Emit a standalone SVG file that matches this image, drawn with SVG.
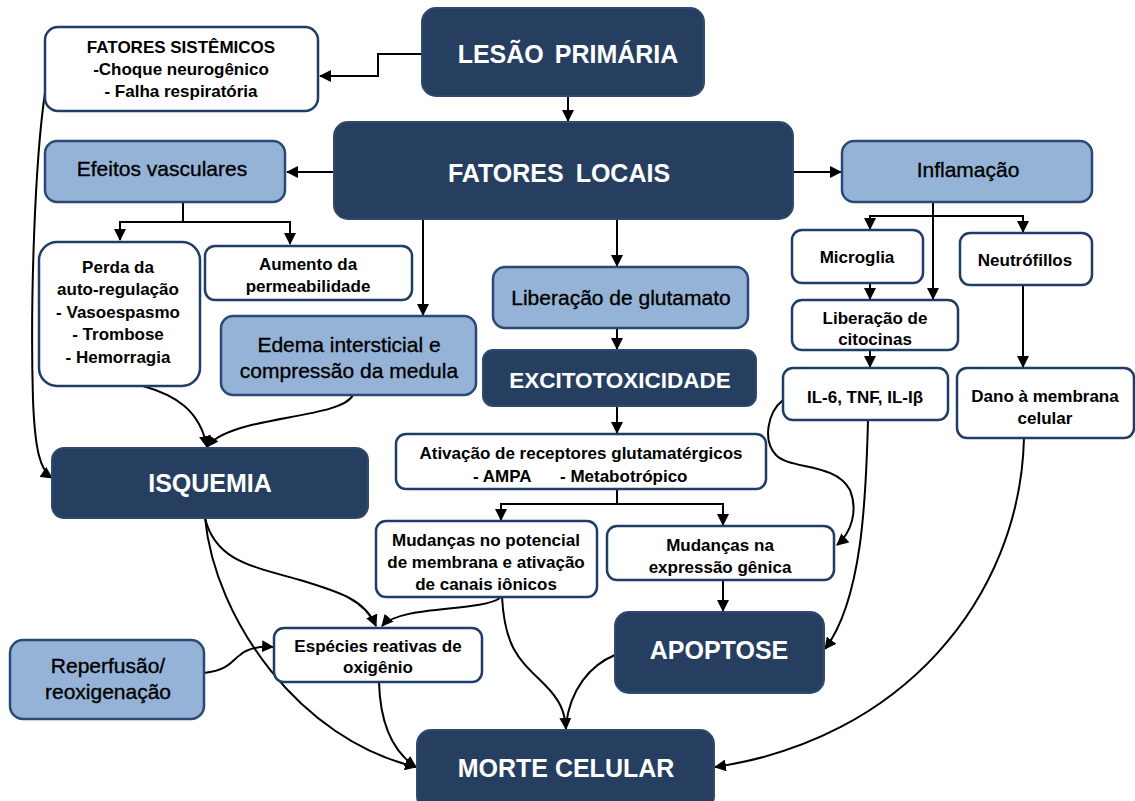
<svg xmlns="http://www.w3.org/2000/svg" width="1135" height="801" viewBox="0 0 1135 801">
<defs>
<marker id="ah" markerUnits="userSpaceOnUse" markerWidth="12" markerHeight="12" refX="11" refY="6" orient="auto">
<path d="M0,0 L12,6 L0,12 z" fill="#000"/>
</marker>
<style>
.dk{fill:#263f60;stroke:#2f4a6e;stroke-width:2}
.lb{fill:#95b3d7;stroke:#2a4a75;stroke-width:2.5}
.wh{fill:#fff;stroke:#1f3d66;stroke-width:2.5}
.tw{font-family:"Liberation Sans",Arial,sans-serif;font-weight:bold;fill:#fff;text-anchor:middle}
.tb{font-family:"Liberation Sans",Arial,sans-serif;font-weight:bold;fill:#000;font-size:17px;text-anchor:middle}
.tr{font-family:"Liberation Sans",Arial,sans-serif;fill:#000;font-size:21px;text-anchor:middle;stroke:#000;stroke-width:0.35}
.c{fill:none;stroke:#000;stroke-width:2}
.a{marker-end:url(#ah)}
</style>
</defs>
<rect width="1135" height="801" fill="#fff"/>

<g id="connectors">
<path class="c a" d="M422,54 H378 V76 H320"/>
<path class="c a" d="M568,96 V121"/>
<path class="c a" d="M334,172 H287"/>
<path class="c a" d="M793,172 H841"/>
<path class="c" d="M183,202 V222"/>
<path class="c a" d="M183,222 H120 V240"/>
<path class="c a" d="M183,222 H290 V244"/>
<path class="c a" d="M423,219 V315"/>
<path class="c a" d="M617,219 V266"/>
<path class="c a" d="M617,328 V349"/>
<path class="c a" d="M617,406 V433"/>
<path class="c" d="M617,489 V504"/>
<path class="c a" d="M617,504 H501 V520"/>
<path class="c a" d="M617,504 H723 V525"/>
<path class="c a" d="M723,580 V611"/>
<path class="c" d="M933,202 V216"/>
<path class="c a" d="M933,216 H870 V229"/>
<path class="c a" d="M933,216 H1023 V232"/>
<path class="c a" d="M933,216 V299"/>
<path class="c a" d="M870,283 V299"/>
<path class="c a" d="M870,350 V367"/>
<path class="c a" d="M1023,285 V367"/>
<path class="c a" d="M783,400 C768,412 762,440 776,455 C790,470 835,462 850,490 C858,510 852,532 837,545"/>
<path class="c a" d="M868,420 C866,500 862,600 825,649"/>
<path class="c a" d="M1024,438 C1020,600 900,740 715,767"/>
<path class="c" d="M615,655 C590,665 570,690 566,725"/>
<path class="c a" d="M502,597 C505,650 520,660 545,685 C560,700 565,712 566,729"/>
<path class="c a" d="M500,598 C480,612 400,605 382,626"/>
<path class="c a" d="M205,518 C215,560 250,566 300,580 C340,592 365,600 376,626"/>
<path class="c a" d="M205,518 C215,620 300,740 416,767"/>
<path class="c a" d="M379,682 C380,720 390,750 416,767"/>
<path class="c a" d="M204,673 C230,670 232,660 240,655 C248,648 258,646 273,647"/>
<path class="c a" d="M143,386 C175,395 200,410 207,447"/>
<path class="c a" d="M353,395 C340,420 230,415 207,447"/>
<path class="c a" d="M45,93 C35,160 30,300 33,400 C35,450 40,470 52,478"/>
</g>

<g id="lesao"><rect class="dk" x="422" y="8" width="282" height="88" rx="14"/><text class="tw" x="568" y="63" font-size="25" word-spacing="4">LESÃO PRIMÁRIA</text></g>
<g id="sistemicos"><rect class="wh" x="45" y="27" width="273" height="84" rx="13"/>
<text class="tb" x="181" y="53" font-size="18.5">FATORES SISTÊMICOS</text>
<text class="tb" x="181" y="75">-Choque neurogênico</text>
<text class="tb" x="181" y="97">- Falha respiratória</text></g>
<g id="locais"><rect class="dk" x="334" y="122" width="459" height="97" rx="14"/><text class="tw" x="559" y="182" font-size="25" word-spacing="5">FATORES LOCAIS</text></g>
<g id="vasculares"><rect class="lb" x="45" y="141" width="240" height="61" rx="12"/><text class="tr" x="162" y="176">Efeitos vasculares</text></g>
<g id="inflamacao"><rect class="lb" x="842" y="141" width="250" height="61" rx="12"/><text class="tr" x="968" y="177">Inflamação</text></g>
<g id="perda"><rect class="wh" x="39" y="242" width="161" height="144" rx="18"/>
<text class="tb" x="118" y="273">Perda da</text>
<text class="tb" x="118" y="295">auto-regulação</text>
<text class="tb" x="118" y="318">- Vasoespasmo</text>
<text class="tb" x="118" y="340">- Trombose</text>
<text class="tb" x="118" y="363">- Hemorragia</text></g>
<g id="aumento"><rect class="wh" x="205" y="246" width="207" height="54" rx="10"/>
<text class="tb" x="308" y="270">Aumento da</text>
<text class="tb" x="308" y="292">permeabilidade</text></g>
<g id="edema"><rect class="lb" x="221" y="316" width="255" height="79" rx="12"/>
<text class="tr" x="349" y="352">Edema intersticial e</text>
<text class="tr" x="349" y="378">compressão da medula</text></g>
<g id="glutamato"><rect class="lb" x="493" y="267" width="255" height="61" rx="12"/><text class="tr" x="621" y="305">Liberação de glutamato</text></g>
<g id="excito"><rect class="dk" x="483" y="350" width="273" height="56" rx="10"/><text class="tw" x="620" y="388" font-size="22.5">EXCITOTOXICIDADE</text></g>
<g id="ativacao"><rect class="wh" x="396" y="434" width="370" height="55" rx="10"/>
<text class="tb" x="581" y="459">Ativação de receptores glutamatérgicos</text>
<text class="tb" x="473" y="482" style="text-anchor:start">- AMPA</text>
<text class="tb" x="560" y="482" style="text-anchor:start">- Metabotrópico</text></g>
<g id="microglia"><rect class="wh" x="792" y="230" width="131" height="53" rx="10"/><text class="tb" x="857" y="263">Microglia</text></g>
<g id="neutrofilos"><rect class="wh" x="960" y="233" width="132" height="52" rx="10"/><text class="tb" x="1025" y="266">Neutrófillos</text></g>
<g id="citocinas"><rect class="wh" x="792" y="300" width="166" height="50" rx="10"/>
<text class="tb" x="875" y="324">Liberação de</text>
<text class="tb" x="875" y="345">citocinas</text></g>
<g id="il6"><rect class="wh" x="783" y="368" width="165" height="52" rx="10"/><text class="tb" x="865" y="403">IL-6, TNF, IL-Iβ</text></g>
<g id="dano"><rect class="wh" x="957" y="368" width="177" height="70" rx="10"/>
<text class="tb" x="1045" y="402">Dano à membrana</text>
<text class="tb" x="1045" y="424">celular</text></g>
<g id="isquemia"><rect class="dk" x="52" y="448" width="316" height="70" rx="12"/><text class="tw" x="210" y="492" font-size="25">ISQUEMIA</text></g>
<g id="potencial"><rect class="wh" x="376" y="521" width="221" height="76" rx="10"/>
<text class="tb" x="486" y="546">Mudanças no potencial</text>
<text class="tb" x="486" y="568">de membrana e ativação</text>
<text class="tb" x="486" y="590">de canais iônicos</text></g>
<g id="expressao"><rect class="wh" x="607" y="526" width="227" height="54" rx="10"/>
<text class="tb" x="720" y="551">Mudanças na</text>
<text class="tb" x="720" y="573">expressão gênica</text></g>
<g id="especies"><rect class="wh" x="274" y="628" width="208" height="54" rx="10"/>
<text class="tb" x="378" y="652">Espécies reativas de</text>
<text class="tb" x="378" y="673">oxigênio</text></g>
<g id="reperfusao"><rect class="lb" x="10" y="640" width="194" height="79" rx="13"/>
<text class="tr" x="108" y="673">Reperfusão/</text>
<text class="tr" x="108" y="699">reoxigenação</text></g>
<g id="apoptose"><rect class="dk" x="615" y="612" width="209" height="81" rx="14"/><text class="tw" x="719" y="659" font-size="25">APOPTOSE</text></g>
<g id="morte"><rect class="dk" x="417" y="730" width="297" height="80" rx="14"/><text class="tw" x="566" y="777" font-size="25">MORTE CELULAR</text></g>
</svg>
